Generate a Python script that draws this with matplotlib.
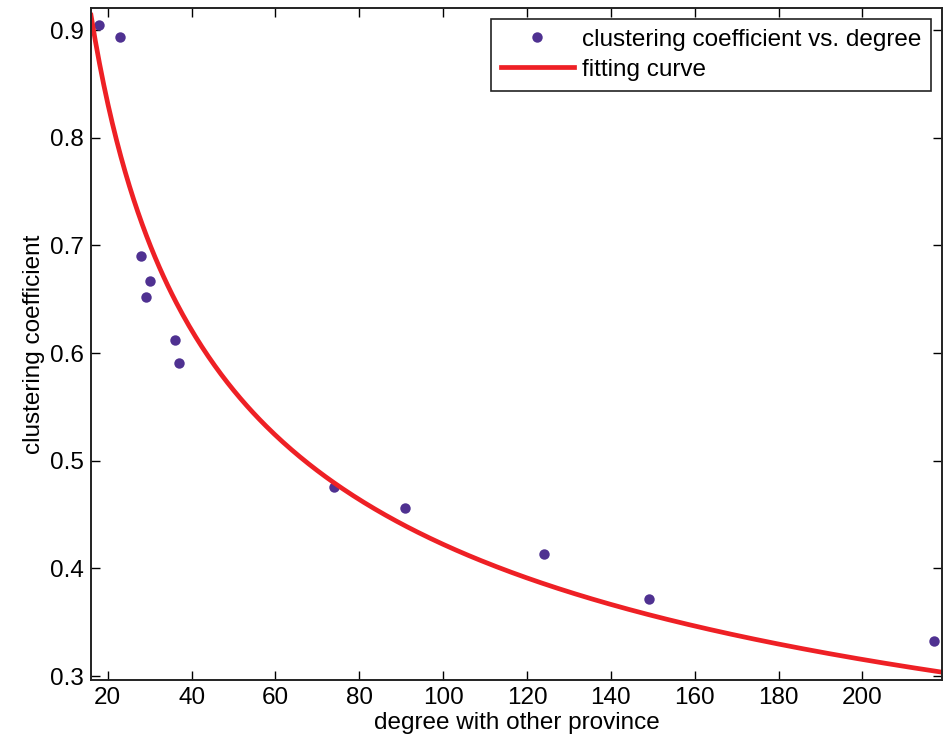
import numpy as np
import matplotlib
matplotlib.use("Agg")
import matplotlib.pyplot as plt

plt.rcParams["font.family"] = ["Liberation Sans", "DejaVu Sans"]

# data
degree = [18, 23, 28, 29, 30, 36, 37, 74, 91, 124, 149, 217]
clustering = [0.905, 0.894, 0.690, 0.652, 0.667, 0.612, 0.591, 0.476, 0.456, 0.413, 0.372, 0.333]

# power-law fit  y = a * x^b
fit_a = 2.938
fit_b = -0.4212

xfit = np.linspace(16, 219, 400)
yfit = fit_a * xfit ** fit_b

fig = plt.figure(figsize=(9.43, 7.44), dpi=100)
ax = fig.add_axes([0.0965, 0.086, 0.9025, 0.903])

ax.plot(degree, clustering, "o", color="#4f3191", markersize=7.5, markeredgewidth=0,
        label="clustering coefficient vs. degree")
ax.plot(xfit, yfit, color="#ee2025", linewidth=3.4, label="fitting curve")

ax.set_xlim(16, 219)
ax.set_ylim(0.2963, 0.9204)
ax.set_xticks(range(20, 201, 20))
ax.set_yticks([0.3, 0.4, 0.5, 0.6, 0.7, 0.8, 0.9])
ax.tick_params(direction="in", top=True, right=True, length=6.5, width=1, labelsize=17.5, pad=5)
for s in ax.spines.values():
    s.set_linewidth(1.4)
    s.set_color("#222222")

ax.set_xlabel("degree with other province", fontsize=17.5, labelpad=2)
ax.set_ylabel("clustering coefficient", fontsize=17.5, labelpad=4)

leg = ax.legend(loc="upper right", fontsize=17.5, fancybox=False, framealpha=1,
                edgecolor="#222222", borderaxespad=0.45, handlelength=3.0,
                borderpad=0.4, labelspacing=0.33, handletextpad=0.35)
leg.get_frame().set_linewidth(1.2)

plt.savefig("out.png", dpi=100)
